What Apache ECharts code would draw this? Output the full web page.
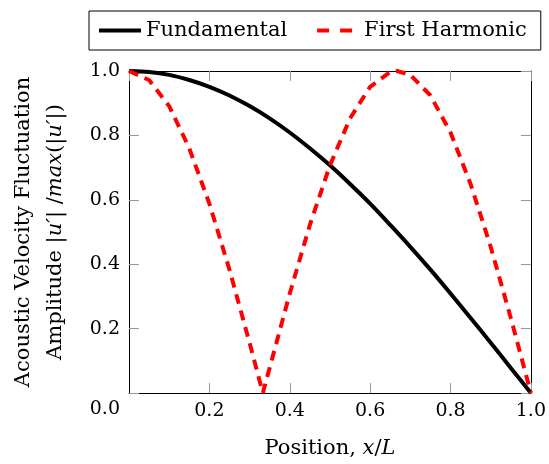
<!DOCTYPE html>
<html>
<head>
<meta charset="utf-8">
<script src="https://cdn.jsdelivr.net/npm/echarts@6/dist/echarts.min.js"></script>
<style>
  html, body { margin: 0; padding: 0; background: #fff; }
  #chart { width: 549px; height: 464px; }
</style>
</head>
<body>
<div id="chart"></div>
<script>
// positions along the duct (x/L)
const positions = [0, 0.05, 0.1, 0.15, 0.2, 0.25, 0.3, 0.35, 0.4, 0.45, 0.5,
  0.55, 0.6, 0.65, 0.7, 0.75, 0.8, 0.85, 0.9, 0.95, 1.0];
const fundamental = [1.0, 0.997, 0.988, 0.972, 0.951, 0.924, 0.891, 0.853, 0.809, 0.76, 0.707,
  0.649, 0.588, 0.522, 0.454, 0.383, 0.309, 0.233, 0.156, 0.078, 0.0];

// harmonic read with its zero and peak
const harmPositions = [0, 0.05, 0.1, 0.15, 0.2, 0.25, 0.3, 0.333, 0.35, 0.4, 0.45, 0.5,
  0.55, 0.6, 0.65, 0.667, 0.7, 0.75, 0.8, 0.85, 0.9, 0.95, 1.0];
const harmonic = [1.0, 0.972, 0.891, 0.76, 0.588, 0.383, 0.156, 0.0, 0.078, 0.309, 0.522, 0.707,
  0.853, 0.951, 0.997, 1.0, 0.988, 0.924, 0.809, 0.649, 0.454, 0.233, 0.0];

const tickLabels = ['0.0', '0.2', '0.4', '0.6', '0.8', '1.0'];

const font = 'DejaVu Serif';
const fs = 19;   // tick labels
const ts = 21;   // titles, legend

const pair = (xs, ys) => xs.map((x, i) => [x, ys[i]]);
const label = v => tickLabels[Math.round(v * 5)];

const chart = echarts.init(document.getElementById('chart'), null, {renderer: 'canvas'});

const tick = { show: true, inside: true, length: 10, lineStyle: { color: '#999', width: 1 } };
const line = { show: true, onZero: false, lineStyle: { color: '#000', width: 1 } };

chart.setOption({
    animation: false,
    textStyle: { fontFamily: font },
    grid: { left: 126, right: 17, top: 71, bottom: 68 },
    legend: {
        left: 89, top: 11,
        padding: [9, 14, 9, 10],
        borderColor: '#000', borderWidth: 1, borderRadius: 0,
        itemWidth: 42, itemHeight: 4, itemGap: 30,
        textStyle: { fontFamily: font, fontSize: ts, color: '#000' },
        data: [
            { name: 'Fundamental', icon: 'path://M0,0h42v4h-42z', itemStyle: { color: '#000' } },
            { name: 'First Harmonic', icon: 'path://M0,0h12v4h-12zM23,0h12v4h-12zM41.9,0h0.1v0.1h-0.1z', itemStyle: { color: '#ff0000' } }
        ]
    },
    xAxis: [{
        type: 'value', min: 0, max: 1, interval: 0.2,
        name: 'Position, {i|x}/{i|L}',
        nameLocation: 'middle', nameGap: 45,
        nameTextStyle: {
            fontFamily: font, fontSize: ts, color: '#000',
            rich: { i: { fontFamily: font, fontSize: ts, fontStyle: 'italic', color: '#000' } }
        },
        axisLine: line, axisTick: tick, splitLine: { show: false },
        axisLabel: {
            margin: 9, fontFamily: font, fontSize: fs, color: '#000',
            showMinLabel: false, formatter: label
        }
    }, {
        type: 'value', min: 0, max: 1, interval: 0.2, position: 'top',
        axisLine: line, axisTick: tick, splitLine: { show: false }, axisLabel: { show: false }
    }],
    yAxis: [{
        type: 'value', min: 0, max: 1, interval: 0.2,
        name: 'Acoustic Velocity Fluctuation\nAmplitude |{i|u′}| /{i|max}(|{i|u′}|)',
        nameLocation: 'middle', nameRotate: 90, nameGap: 57,
        nameTextStyle: {
            fontFamily: font, fontSize: ts, color: '#000', lineHeight: 32, align: 'center',
            rich: { i: { fontFamily: font, fontSize: ts, fontStyle: 'italic', color: '#000', lineHeight: 32 } }
        },
        axisLine: line, axisTick: tick, splitLine: { show: false },
        axisLabel: {
            margin: 9, fontFamily: font, fontSize: fs, color: '#000',
            formatter: v => v === 0 ? '{z|0.0}' : label(v),
            rich: { z: { fontFamily: font, fontSize: fs, color: '#000', padding: [32, 0, 0, 0] } }
        }
    }, {
        type: 'value', min: 0, max: 1, interval: 0.2, position: 'right',
        axisLine: line, axisTick: tick, splitLine: { show: false }, axisLabel: { show: false }
    }],
    series: [{
        name: 'Fundamental',
        type: 'line',
        data: pair(positions, fundamental),
        showSymbol: false, symbol: 'none',
        smooth: 0.3,
        lineStyle: { color: '#000', width: 4 },
        itemStyle: { color: '#000' }
    }, {
        name: 'First Harmonic',
        type: 'line',
        data: pair(harmPositions, harmonic),
        showSymbol: false, symbol: 'none',
        lineStyle: { color: '#ff0000', width: 4, type: [10, 7] },
        itemStyle: { color: '#ff0000' }
    }]
});
</script>
</body>
</html>
